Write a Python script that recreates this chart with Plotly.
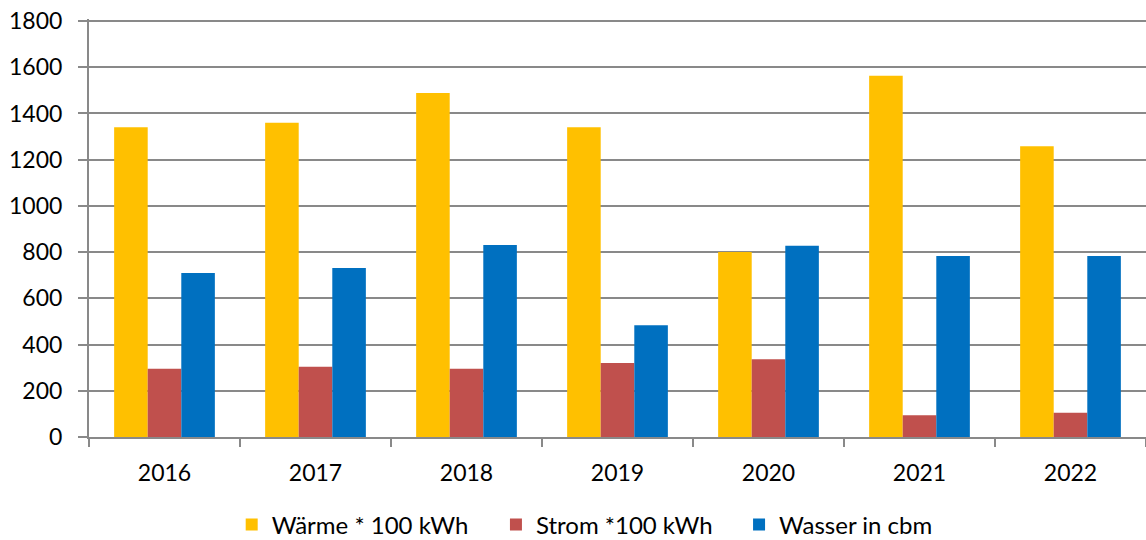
import plotly.graph_objects as go

years = ["2016", "2017", "2018", "2019", "2020", "2021", "2022"]
waerme = [1340, 1360, 1488, 1340, 800, 1563, 1258]
strom = [295, 304, 295, 320, 336, 94, 105]
wasser = [710, 731, 831, 484, 828, 783, 783]

series = [
    ("Wärme * 100 kWh", waerme, "#FFC000", "legend", 0.135),
    ("Strom *100 kWh", strom, "#C0504D", "legend2", 0.385),
    ("Wasser in cbm", wasser, "#0070C0", "legend3", 0.615),
]

tick_font = dict(family="Lato, 'Open Sans', sans-serif", size=23, color="#000000")
leg_font = dict(family="Lato, 'Open Sans', sans-serif", size=24, color="#000000")

fig = go.Figure()
legends = {}
for name, vals, col, leg, lx in series:
    fig.add_trace(go.Bar(x=years, y=vals, name=name, marker_color=col,
                         marker_line_width=0, legend=leg, showlegend=True))
    legends[leg] = dict(orientation="h", x=lx, xanchor="left", y=-0.2105,
                        yanchor="middle", font=leg_font, itemwidth=30,
                        bgcolor="rgba(0,0,0,0)")

fig.update_layout(
    width=1146, height=540,
    margin=dict(l=89, r=0, t=19, b=103, autoexpand=False),
    plot_bgcolor="white", paper_bgcolor="white",
    barmode="group", bargap=0.333, bargroupgap=0,
    font=tick_font,
    **legends,
)
fig.update_xaxes(type="category", showline=True, linecolor="#898989", linewidth=2,
                 ticks="outside", tickson="boundaries", ticklen=8, tickcolor="#898989",
                 tickwidth=2, showgrid=False, tickfont=tick_font, ticklabelstandoff=14,
                 automargin=False)
fig.update_yaxes(range=[0, 1808.65], tick0=0, dtick=200, showgrid=True, gridcolor="#898989",
                 gridwidth=2, showline=True, linecolor="#898989", linewidth=2,
                 ticks="outside", ticklen=9, tickcolor="#898989", tickwidth=2,
                 zeroline=False, tickfont=tick_font, ticklabelstandoff=11, automargin=False,
                 ticklabeloverflow="allow")

fig.write_html("out.html", config={"displayModeBar": False},
               post_script="document.body.style.margin='0';document.body.style.overflow='hidden';")
